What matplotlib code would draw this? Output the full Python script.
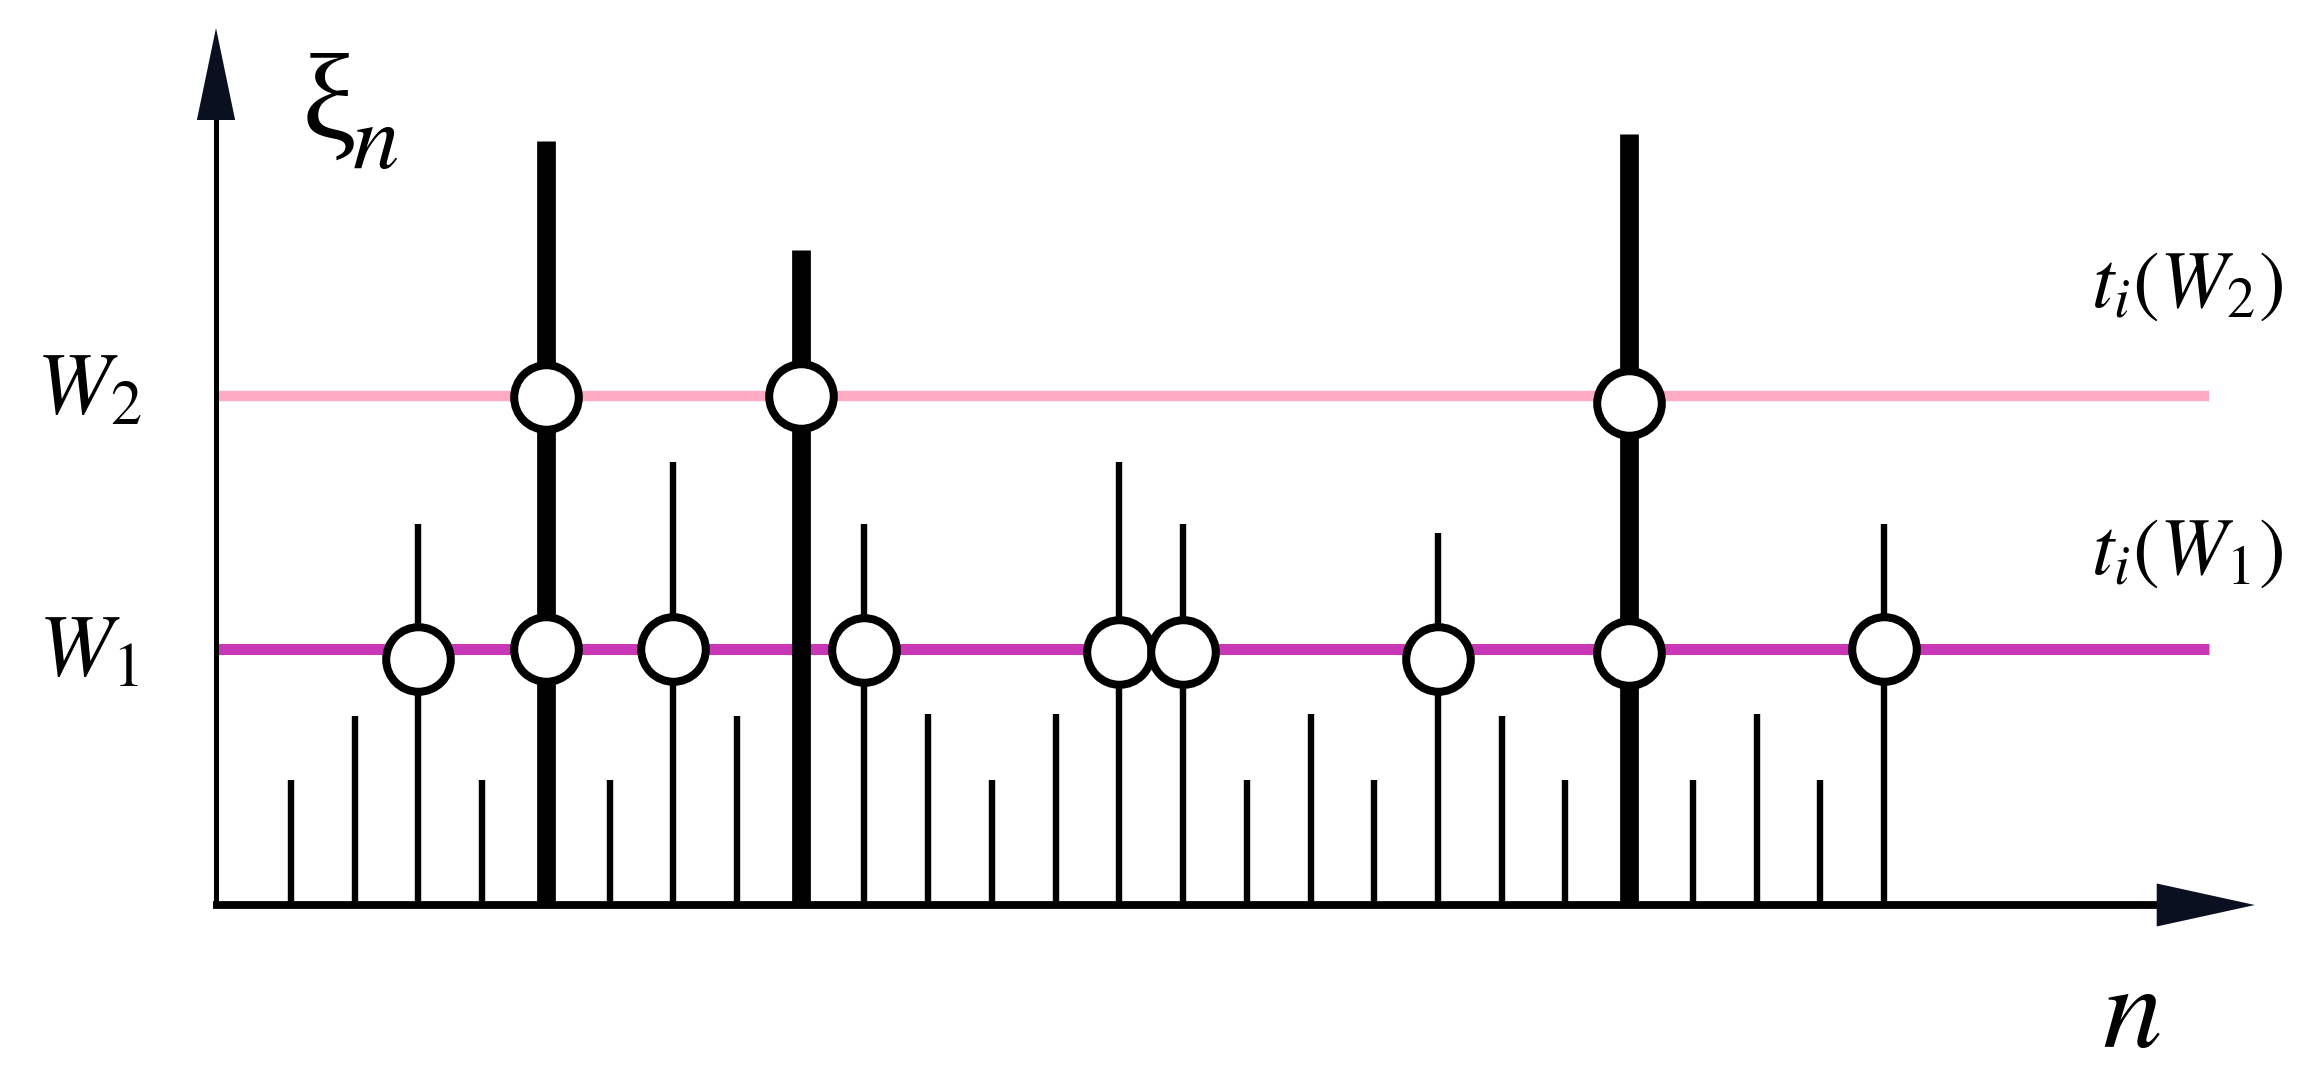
import matplotlib
matplotlib.use("Agg")
import matplotlib.pyplot as plt
import numpy as np

plt.rcParams['mathtext.fontset'] = 'stix'
plt.rcParams['font.family'] = ['STIXGeneral', 'DejaVu Serif']

# ---- data ----
n_idx = list(range(1, 27))
heights = [1.25, 1.89, 3.81, 1.25, 7.64, 1.25, 4.43, 1.89, 6.55, 3.81, 1.91, 1.25, 1.91,
           4.43, 3.81, 1.25, 1.91, 1.25, 3.72, 1.89, 1.25, 7.71, 1.25, 1.91, 1.25, 3.81]
thick_n = [5, 9, 22]
W1 = 2.56
W2 = 5.09
w1_hits_n = [3, 5, 7, 10, 14, 15, 19, 22, 26]
w1_hits_y = [2.46, 2.56, 2.56, 2.55, 2.53, 2.53, 2.46, 2.52, 2.56]
w2_hits_n = [5, 9, 22]
w2_hits_y = [5.08, 5.09, 5.02]

# ---- figure ----
W, H, DPI = 2309, 1083, 100
fig = plt.figure(figsize=(W / DPI, H / DPI), dpi=DPI)
ax = fig.add_axes([0, 0, 1, 1])
ax.set_xlim(-3.567, 32.67)
ax.set_ylim(-1.78, 9.05)
ax.axis('off')

axis_x = -0.177
line_end = 31.1

# axes with arrow heads
ax.plot([axis_x, axis_x], [0, 7.9], color='black', lw=3.6, solid_capstyle='butt', zorder=5)
ax.fill([axis_x - 0.30, axis_x + 0.30, axis_x], [7.85, 7.85, 8.77], color='#0b1020', zorder=6, lw=0)
ax.plot([axis_x - 0.05, 30.4], [0, 0], color='black', lw=5.6, solid_capstyle='butt', zorder=5)
ax.fill([30.28, 30.28, 31.82], [0.215, -0.215, 0], color='#0b1020', zorder=6, lw=0)

# threshold lines
ax.hlines(W2, axis_x, line_end, color='#ffaac3', lw=7.5, capstyle='butt', zorder=2)
ax.hlines(W1, axis_x, line_end, color='#c837b6', lw=8.0, capstyle='butt', zorder=2)

# stems
thin_x = [n for n in n_idx if n not in thick_n]
thin_h = [h for n, h in zip(n_idx, heights) if n not in thick_n]
thick_h = [h for n, h in zip(n_idx, heights) if n in thick_n]
ax.vlines(thin_x, 0, thin_h, color='black', lw=4.6, capstyle='butt', zorder=3)
ax.vlines(thick_n, 0, thick_h, color='black', lw=13.5, capstyle='butt', zorder=3)

# crossing markers
ax.plot(w1_hits_n, w1_hits_y, 'o', ms=46.5, mfc='white', mec='black', mew=5.8, zorder=4, ls='none')
ax.plot(w2_hits_n, w2_hits_y, 'o', ms=46.5, mfc='white', mec='black', mew=5.8, zorder=4, ls='none')

# labels
ax.text(-3.0, 4.92, r'$W_2$', fontsize=64, ha='left', va='baseline')
ax.text(-2.97, 2.31, r'$W_1$', fontsize=64, ha='left', va='baseline')
ax.text(1.17, 8.52, 'ξ', fontsize=88, ha='left', va='top', family='Liberation Serif')
ax.text(1.95, 7.37, r'$n$', fontsize=67, ha='left', va='baseline')
ax.text(29.42, -1.42, r'$n$', fontsize=86, ha='left', va='baseline')
ax.text(32.26, 6.17, r'$t_i(W_2)$', fontsize=58, ha='right', va='center')
ax.text(32.26, 3.50, r'$t_i(W_1)$', fontsize=58, ha='right', va='center')

fig.savefig('out.png', dpi=DPI, facecolor='white')
